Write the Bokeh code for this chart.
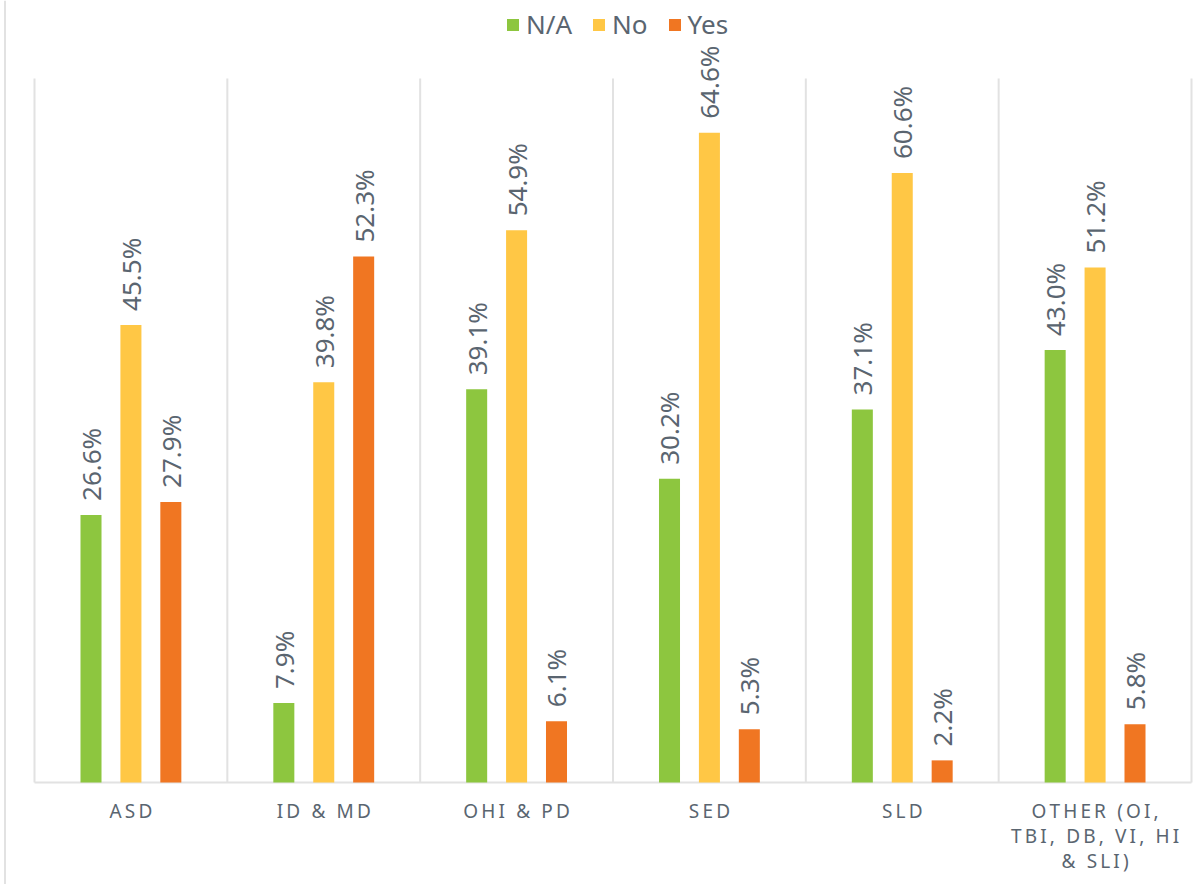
import math
from bokeh.plotting import figure
from bokeh.models import (ColumnDataSource, Range1d, Legend, LegendItem, LabelSet, Span)
from bokeh.core.properties import value
from bokeh.embed import file_html
from bokeh.resources import INLINE

categories = ["ASD", "ID & MD", "OHI & PD", "SED", "SLD", "OTHER (OI,\nTBI, DB, VI, HI\n& SLI)"]
series_names = ["N/A", "No", "Yes"]
na_values = [26.6, 7.9, 39.1, 30.2, 37.1, 43.0]
no_values = [45.5, 39.8, 54.9, 64.6, 60.6, 51.2]
yes_values = [27.9, 52.3, 6.1, 5.3, 2.2, 5.8]
colors = ["#8dc63f", "#ffc745", "#f07622"]

FONT = "Noto Sans"
TXT = "#5a6570"
GRID = "#e2e2e2"

W, H = 1200, 884
# plot area (in canvas pixels)
PL, PR, PT, PB = 34, 1191, 78, 782
YMAX = 70.0
n = len(categories)
xpx = (PR - PL) / n
ypx = (PB - PT) / YMAX
x_start = -0.5 - PL / xpx
x_end = n - 0.5 + (W - PR) / xpx
y_start = -(H - PB) / ypx
y_end = YMAX + PT / ypx

p = figure(width=W, height=H, output_backend="svg", toolbar_location=None,
           x_range=Range1d(x_start, x_end), y_range=Range1d(y_start, y_end),
           x_axis_location=None, y_axis_location=None,
           min_border_left=0, min_border_right=0, min_border_top=0, min_border_bottom=0)
p.outline_line_color = None
p.background_fill_color = "white"
p.border_fill_color = "white"
for g in p.grid:
    g.visible = False

# outer container border on the left
p.add_layout(Span(location=x_start + 4.5 / xpx, dimension="height",
                  line_color=GRID, line_width=2))

offsets = [-0.207, 0.0, 0.207]
bar_w = 0.109

# category separators (vertical gridlines) and baseline
seps = [i - 0.5 for i in range(n + 1)]
p.segment(x0=seps, y0=0, x1=seps, y1=YMAX, line_color=GRID, line_width=2)
p.segment(x0=[-0.5], y0=[0], x1=[n - 0.5], y1=[0], line_color=GRID, line_width=2)

renderers = []
for vals, off, col in zip([na_values, no_values, yes_values], offsets, colors):
    src = ColumnDataSource(dict(
        x=[i + off for i in range(n)],
        top=vals,
        label=[f"{v:.1f}%" for v in vals],
    ))
    r = p.vbar(x="x", top="top", bottom=0, width=bar_w, source=src,
               fill_color=col, line_color=None)
    renderers.append(r)
    p.add_layout(LabelSet(x="x", y="top", text="label", source=src, angle=math.pi / 2,
                          text_align="left", text_baseline="middle", y_offset=14,
                          text_font=value(FONT), text_font_size="26px", text_color=TXT))

def spaced(s):
    return "\u2009".join(s)

# category labels, one LabelSet per text line so each line is centred
max_lines = max(len(c.split("\n")) for c in categories)
for li in range(max_lines):
    xs, ts = [], []
    for i, c in enumerate(categories):
        lines = c.split("\n")
        if li < len(lines):
            xs.append(i)
            ts.append(spaced(lines[li]))
    src = ColumnDataSource(dict(x=xs, y=[0] * len(xs), text=ts))
    p.add_layout(LabelSet(x="x", y="y", text="text", source=src, y_offset=-28 - 25 * li,
                          text_align="center", text_baseline="middle",
                          text_font=value(FONT), text_font_size="19px", text_color=TXT))

legend = Legend(items=[LegendItem(label=s, renderers=[r]) for s, r in zip(series_names, renderers)],
                orientation="horizontal", location=(505, H - 42),
                glyph_width=15, glyph_height=15, label_standoff=6, spacing=19,
                padding=0, margin=0, border_line_color=None,
                background_fill_alpha=0,
                label_text_font=FONT, label_text_font_size="26px", label_text_color=TXT)
p.add_layout(legend, "center")

open("out.html", "w").write(file_html(p, INLINE))
